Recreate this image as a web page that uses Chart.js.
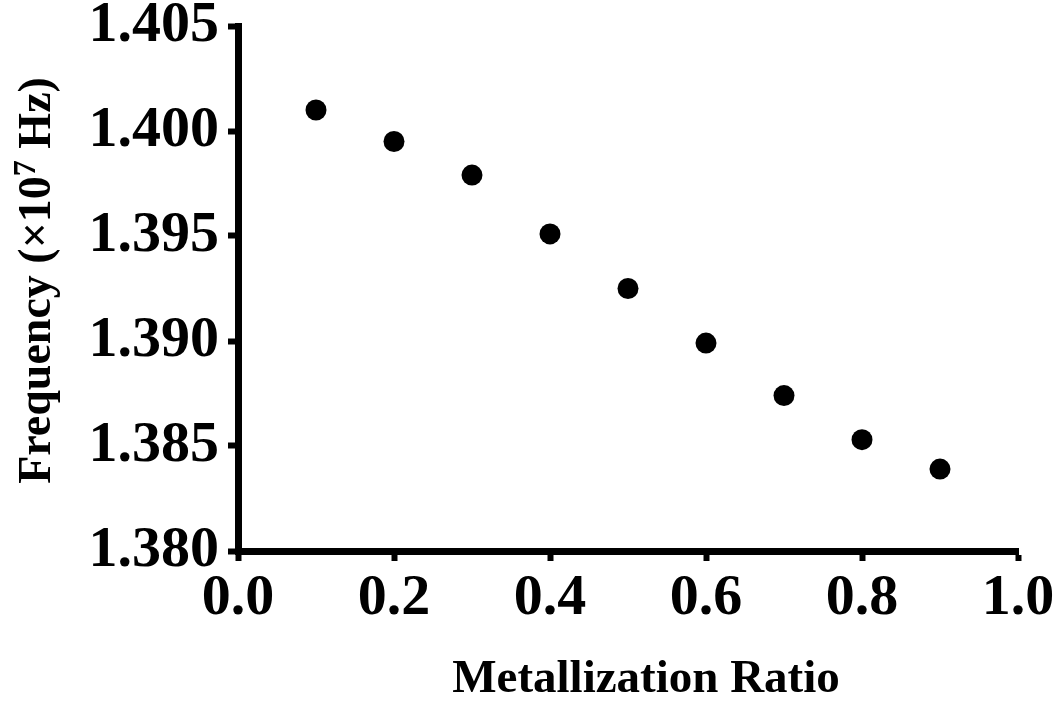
<!DOCTYPE html>
<html>
<head>
<meta charset="utf-8">
<script src="https://cdn.jsdelivr.net/npm/chart.js@4/dist/chart.umd.min.js"></script>
<style>
  html, body { margin: 0; padding: 0; background: #fff; }
  #wrap { width: 1062px; height: 702px; position: relative; }
</style>
</head>
<body>
<div id="wrap"><canvas id="freqChart"></canvas></div>
<script>
// Resonant frequency vs. electrode metallization ratio
const ratios = [0.1, 0.2, 0.3, 0.4, 0.5, 0.6, 0.7, 0.8, 0.9];
const frequencies = [1.4010, 1.3995, 1.3979, 1.3951, 1.3925, 1.3899, 1.3874, 1.3853, 1.3839];

const xTicks = [0.0, 0.2, 0.4, 0.6, 0.8, 1.0];
const yTicks = [1.380, 1.385, 1.390, 1.395, 1.400, 1.405];

const SERIF = '"Liberation Serif", "Times New Roman", serif';

// axis titles drawn by hand so the exponent can be raised
const axisTitles = {
    id: 'axisTitles',
    afterDraw(chart) {
        const ctx = chart.ctx;
        const area = chart.chartArea;
        ctx.save();
        ctx.fillStyle = '#000';
        ctx.textBaseline = 'alphabetic';

        // x title
        ctx.font = 'bold 47px ' + SERIF;
        ctx.textAlign = 'center';
        ctx.fillText('Metallization Ratio', (area.left + area.right) / 2 + 18, 692);

        // y title, rotated, with superscript 7
        const big = 'bold 46px ' + SERIF;
        const small = 'bold 32px ' + SERIF;
        const parts = [
            { text: 'Frequency (\u00d710', font: big, rise: 0 },
            { text: '7', font: small, rise: 15 },
            { text: ' Hz)', font: big, rise: 0 }
        ];
        let total = 0;
        parts.forEach(p => { ctx.font = p.font; p.w = ctx.measureText(p.text).width; total += p.w; });
        ctx.translate(50, (area.top + area.bottom) / 2 - 8);
        ctx.rotate(-Math.PI / 2);
        ctx.textAlign = 'left';
        let x = -total / 2;
        parts.forEach(p => {
            ctx.font = p.font;
            ctx.fillText(p.text, x, -p.rise);
            x += p.w;
        });
        ctx.restore();
    }
};

new Chart(document.getElementById('freqChart'), {
    type: 'scatter',
    data: {
        datasets: [{
            data: ratios.map((r, i) => ({ x: r, y: frequencies[i] })),
            backgroundColor: '#000',
            borderWidth: 0,
            pointRadius: 10.5,
            pointHoverRadius: 10.5
        }]
    },
    options: {
        responsive: true,
        maintainAspectRatio: false,
        animation: false,
        layout: {
            padding: { top: 26, right: 44, left: 0, bottom: 0 }
        },
        plugins: {
            legend: { display: false },
            tooltip: { enabled: false }
        },
        scales: {
            x: {
                type: 'linear',
                min: 0,
                max: 1,
                afterBuildTicks: (scale) => { scale.ticks = xTicks.map(v => ({ value: v })); },
                afterFit: (scale) => {
                    scale.height = 151;
                    scale.paddingLeft = 0;
                    scale.paddingRight = 0;
                },
                border: { display: true, color: '#000', width: 7 },
                grid: {
                    drawOnChartArea: false,
                    tickLength: 10,
                    tickWidth: 6,
                    tickColor: '#000'
                },
                ticks: {
                    autoSkip: false,
                    maxRotation: 0,
                    padding: 3,
                    color: '#000',
                    font: { family: SERIF, size: 58, weight: 'bold' },
                    callback: (v) => Number(v).toFixed(1)
                }
            },
            y: {
                type: 'linear',
                min: 1.380,
                max: 1.405,
                afterBuildTicks: (scale) => { scale.ticks = yTicks.map(v => ({ value: v })); },
                afterFit: (scale) => {
                    scale.width = 238;
                    scale.paddingTop = 0;
                    scale.paddingBottom = 0;
                },
                border: { display: true, color: '#000', width: 7 },
                grid: {
                    drawOnChartArea: false,
                    tickLength: 10,
                    tickWidth: 6,
                    tickColor: '#000'
                },
                ticks: {
                    autoSkip: false,
                    padding: 9,
                    color: '#000',
                    font: { family: SERIF, size: 58, weight: 'bold' },
                    callback: (v) => Number(v).toFixed(3)
                }
            }
        }
    },
    plugins: [axisTitles]
});
</script>
</body>
</html>
